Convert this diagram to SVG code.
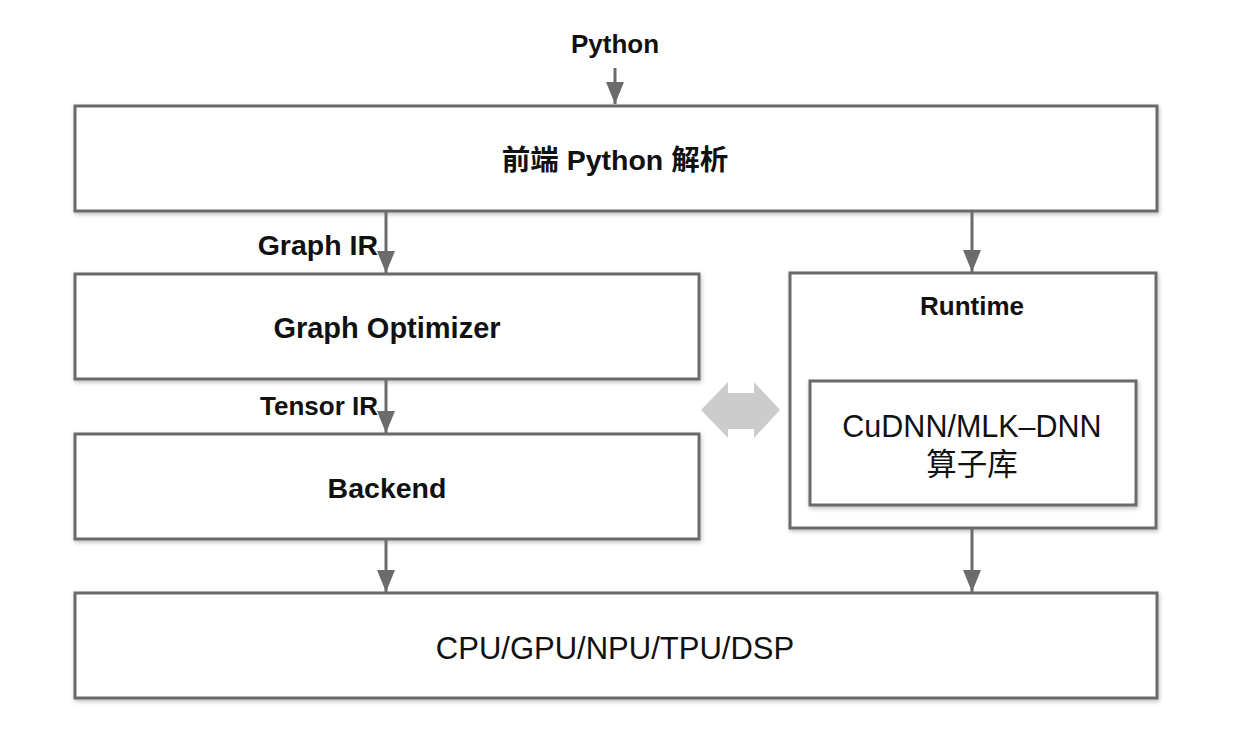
<svg xmlns="http://www.w3.org/2000/svg" width="1236" height="734" viewBox="0 0 1236 734">
<style>
.box{fill:#fff;stroke:#6b6b6b;stroke-width:3;filter:url(#sh)}
.lbl{font-family:"Liberation Sans","Noto Sans CJK SC",sans-serif;font-weight:bold;font-size:26px;fill:#111;text-anchor:middle}
.big{font-size:28.5px}
.reg{font-family:"Liberation Sans","Noto Sans CJK SC",sans-serif;font-size:30.5px;fill:#111;text-anchor:middle}
.end{text-anchor:end}
.con{stroke:#6b6b6b;stroke-width:3;fill:none;marker-end:url(#ah)}
</style>
<defs>
<filter id="sh" x="-5%" y="-10%" width="110%" height="130%">
<feDropShadow dx="1" dy="2" stdDeviation="2" flood-color="#000" flood-opacity="0.25"/>
</filter>
<marker id="ah" markerUnits="userSpaceOnUse" markerWidth="22" markerHeight="18" viewBox="0 0 22 18" refX="22" refY="9" orient="auto">
<path d="M0,0 L22,9 L0,18 z" fill="#6b6b6b"/>
</marker>
</defs>
<rect width="1236" height="734" fill="#fff"/>
<g id="python"><text class="lbl" x="615" y="53">Python</text></g>
<g id="frontend"><rect class="box" x="75" y="106" width="1082" height="105"/><text class="lbl big" x="615" y="170">前端 Python 解析</text></g>
<g id="optimizer"><rect class="box" x="75" y="274" width="624" height="105"/><text class="lbl" x="387" y="338" style="font-size:29px">Graph Optimizer</text></g>
<g id="backend"><rect class="box" x="75" y="434" width="624" height="105"/><text class="lbl big" x="387" y="498">Backend</text></g>
<g id="runtime"><rect class="box" x="790" y="273" width="366" height="255"/><text class="lbl" x="972" y="315">Runtime</text></g>
<g id="oplib"><rect class="box" x="810" y="381" width="326" height="124"/><text class="reg" x="972" y="437">CuDNN/MLK–DNN</text><text class="reg" x="972" y="475">算子库</text></g>
<g id="hardware"><rect class="box" x="75" y="593" width="1082" height="105"/><text class="reg" x="615" y="659" style="font-size:31px">CPU/GPU/NPU/TPU/DSP</text></g>
<g id="connectors">
<line class="con" x1="615" y1="68" x2="615" y2="104"/>
<line class="con" x1="386" y1="212" x2="386" y2="273"/>
<line class="con" x1="972" y1="212" x2="972" y2="272"/>
<line class="con" x1="386" y1="380" x2="386" y2="433"/>
<line class="con" x1="386" y1="540" x2="386" y2="592"/>
<line class="con" x1="972" y1="529" x2="972" y2="592"/>
<polygon points="701,410 728,382 728,393 754,393 754,382 780,410 754,438 754,429 728,429 728,438" fill="#cccccc"/>
<text class="lbl big end" x="378" y="255">Graph IR</text>
<text class="lbl end" x="378" y="415">Tensor IR</text>
</g>
</svg>
